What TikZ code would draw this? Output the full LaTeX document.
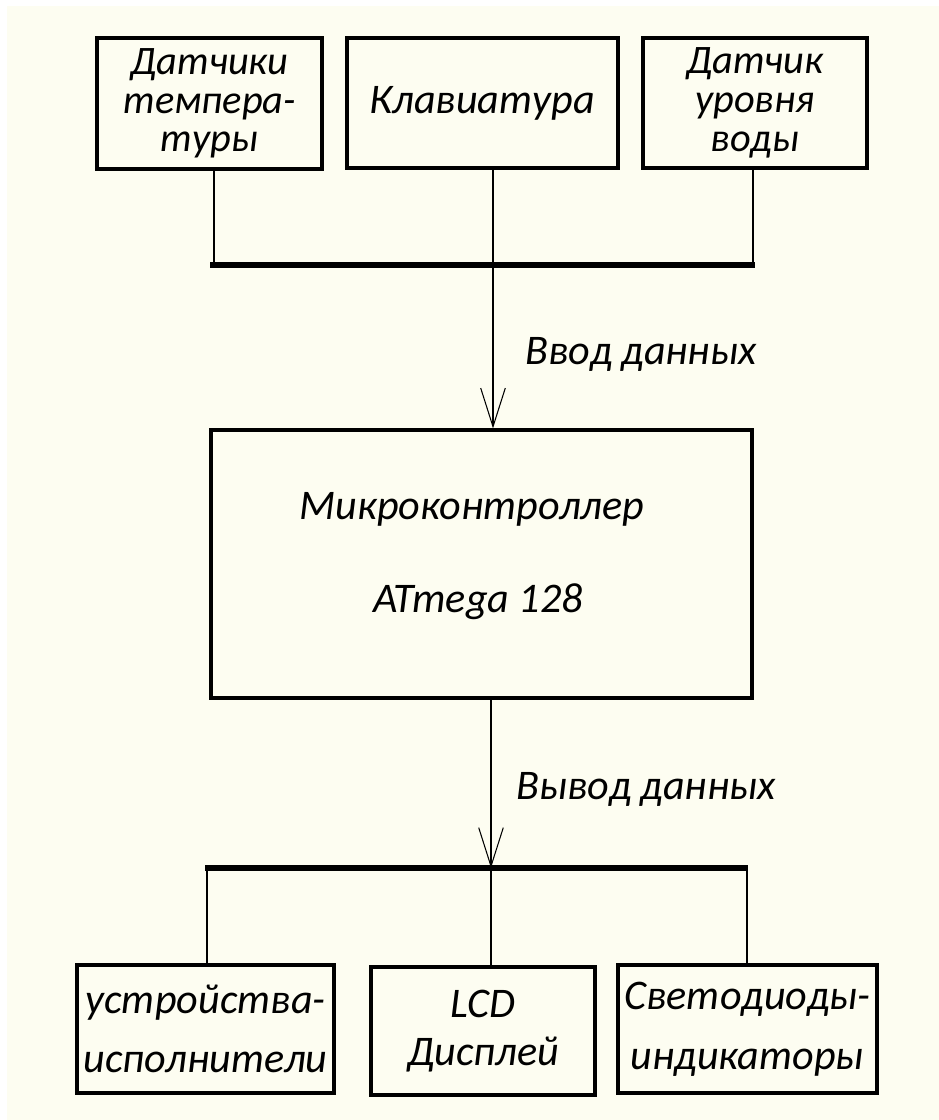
\documentclass[tikz,border=0pt]{standalone}
\usepackage{fontspec}
\setmainfont{Carlito}
\usetikzlibrary{arrows.meta}
\definecolor{paper}{RGB}{253,253,241}

\begin{document}
\begin{tikzpicture}[%
      x=0.02cm, y=-0.02cm,
      blk/.style={draw, line width=1.8pt, inner sep=0pt, align=center},
      txt/.style={font=\itshape\fontsize{24}{20}\selectfont},
      tight/.style={font=\itshape\fontsize{23}{22}\selectfont},
      wide/.style={font=\itshape\fontsize{24}{34}\selectfont},
      wire/.style={line width=0.8pt},
      bus/.style={line width=3.4pt},
      flow/.style={line width=0.8pt, -{Straight Barb[length=22pt,width=14pt,line width=0.6pt]}},
      ]
      \fill [white] (0,0) rectangle (939,1120);
      \fill [paper] (7,6) rectangle (939,1120);

      % inputs
      \node [blk, tight, minimum width=4.5cm, minimum height=2.62cm] (temp) at (209.5,103.5) {Датчики\\темпера-\\туры};
      \node [blk, txt, minimum width=5.42cm, minimum height=2.6cm] (keyb) at (482.5,103) {Клавиатура};
      \node [blk, tight, minimum width=4.48cm, minimum height=2.6cm] (level) at (755,103) {Датчик\\уровня\\воды};

      \coordinate (busA1) at (210,265);
      \coordinate (busA2) at (755,265);
      \coordinate (tapA1) at (214,265);
      \coordinate (tapA2) at (493,265);
      \coordinate (tapA3) at (753,265);
      \draw [bus] (busA1) -- (busA2);
      \draw [wire] (temp.south -| tapA1) -- (tapA1);
      \draw [wire] (keyb.south -| tapA2) -- (tapA2);
      \draw [wire] (level.south -| tapA3) -- (tapA3);

      % controller
      \node [blk, minimum width=10.82cm, minimum height=5.36cm] (mcu) at (481.5,564) {};
      \node [txt] (mcname) at (472,509) {Микроконтроллер};
      \node [txt] (mctype) at (478,602) {ATmega 128};

      \draw [flow] (tapA2) -- (mcu.north -| tapA2);
      \node [txt] (inlbl) at (641,354) {Ввод данных};

      % outputs
      \coordinate (busB1) at (205,868);
      \coordinate (busB2) at (748,868);
      \coordinate (tapB1) at (207,868);
      \coordinate (tapB2) at (491,868);
      \coordinate (tapB3) at (747,868);
      \draw [bus] (busB1) -- (busB2);
      \draw [flow] (mcu.south -| tapB2) -- (tapB2);
      \node [txt] (outlbl) at (646,789) {Вывод данных};

      \node [blk, wide, minimum width=5.14cm, minimum height=2.56cm] (act) at (205.5,1029) {устройства-\\исполнители};
      \node [blk, font=\itshape\fontsize{24}{27}\selectfont, minimum width=4.48cm, minimum height=2.56cm] (lcd) at (483,1031) {LCD\\Дисплей};
      \node [blk, wide, minimum width=5.18cm, minimum height=2.56cm] (led) at (747.5,1029) {Светодиоды-\\индикаторы};

      \draw [wire] (tapB1) -- (act.north -| tapB1);
      \draw [wire] (tapB2) -- (lcd.north -| tapB2);
      \draw [wire] (tapB3) -- (led.north -| tapB3);
\end{tikzpicture}
\end{document}
